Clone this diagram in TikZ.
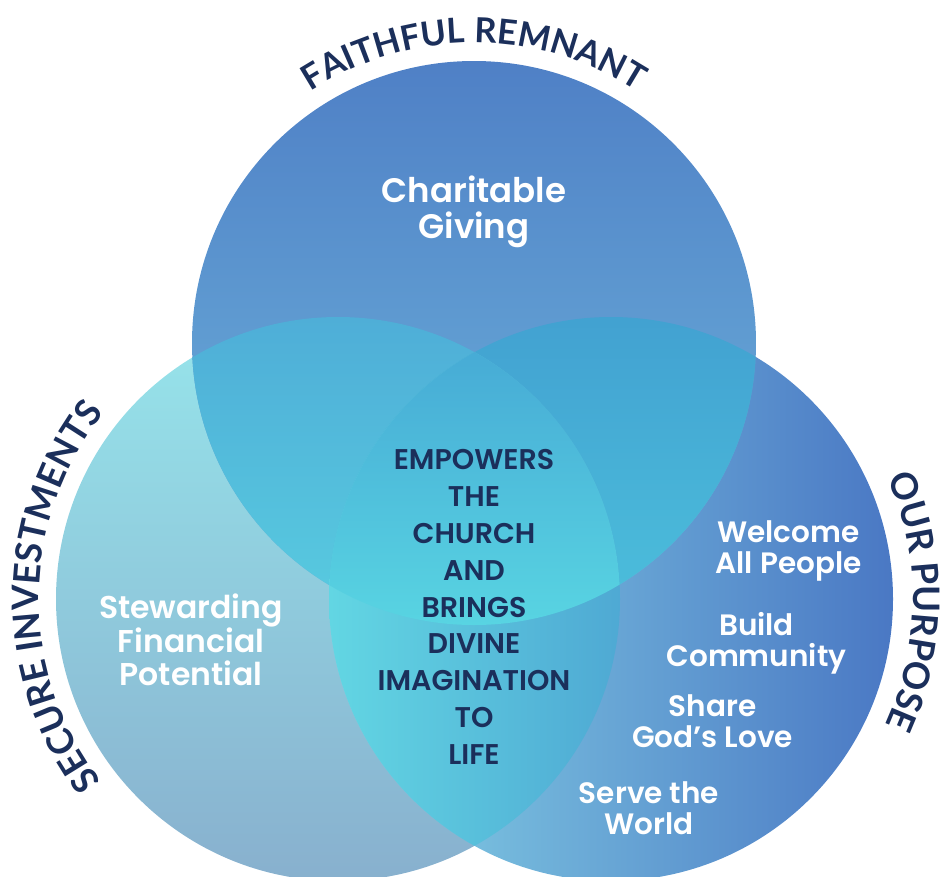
\documentclass[tikz,border=0pt]{standalone}
\usepackage{fontspec}
\setmainfont{Poppins}[UprightFont=* SemiBold]
\newfontfamily\titlefont{Lato}[UprightFont=* Bold]
\usetikzlibrary{decorations.text}

\definecolor{navy}{HTML}{1B2F5B}
\definecolor{lefttop}{HTML}{97E5EB}
\definecolor{leftbot}{HTML}{88B0CE}
\definecolor{rightl}{HTML}{86D4E6}
\definecolor{rightr}{HTML}{4A78C4}
\definecolor{toptop}{HTML}{4F80C6}
\definecolor{topbot}{HTML}{70B8DD}
\definecolor{tltop}{HTML}{4795D0}
\definecolor{tlbot}{HTML}{58CCE0}
\definecolor{trtop}{HTML}{3A88C8}
\definecolor{trbot}{HTML}{4CC0DC}
\definecolor{lrl}{HTML}{62D6E3}
\definecolor{lrr}{HTML}{3D7FC5}
\definecolor{midtop}{HTML}{3580C8}
\definecolor{midbot}{HTML}{58D4E2}

\begin{document}
\begin{tikzpicture}[x=1pt, y=1pt,
    whitetext/.style={text=white, align=center, inner sep=0pt},
    circletitle/.style 2 args={decorate, decoration={text along path, text align=center,
        text color=navy, text={|\titlefont\fontsize{#1}{#1}\selectfont|#2}}}]
    \clip (0,0) rectangle (940,-876);
    % Circle centres
    \coordinate (faith) at (474,-343);
    \coordinate (secure) at (338,-599);
    \coordinate (purpose) at (611,-599);
    \def\rad{282}

    % Draw circles
    \shade [top color=lefttop, bottom color=leftbot] (secure) circle (\rad);
    \shade [left color=rightl, right color=rightr] (purpose) circle (\rad);
    \shade [top color=toptop, bottom color=topbot] (faith) circle (\rad);

    % Overlaps
    \begin{scope}
        \clip (secure) circle (\rad);
        \shade [top color=tltop, bottom color=tlbot] (faith) circle (\rad);
    \end{scope}
    \begin{scope}
        \clip (purpose) circle (\rad);
        \shade [top color=trtop, bottom color=trbot] (faith) circle (\rad);
    \end{scope}
    \begin{scope}
        \clip (secure) circle (\rad);
        \shade [left color=lrl, right color=lrr] (purpose) circle (\rad);
    \end{scope}
    \begin{scope}
        \clip (secure) circle (\rad);
        \clip (purpose) circle (\rad);
        \shade [top color=midtop, bottom color=midbot] (faith) circle (\rad);
    \end{scope}

    % Curved titles
    \path [circletitle={34.5}{FAITHFUL REMNANT}] ([shift={(150:300)}]faith) arc [start angle=150, end angle=30, radius=300];
    \path [circletitle={36.5}{SECURE INVESTMENTS}] ([shift={(249.5:299)}]secure) arc [start angle=249.5, end angle=109.5, radius=299];
    \path [circletitle={36.5}{OUR PURPOSE}] ([shift={(69.5:302)}]purpose) arc [start angle=69.5, end angle=-70.5, radius=302];

    % Labels
    \node [whitetext, font=\fontsize{34}{35.5}\selectfont] (charitable) at (474,-212) {Charitable\\Giving};
    \node [whitetext, font=\fontsize{31.5}{33.5}\selectfont] (stewarding) at (191,-640) {Stewarding\\Financial\\Potential};
    \node [whitetext, font=\fontsize{29.5}{31}\selectfont] (welcome) at (788.5,-551) {Welcome\\All People};
    \node [whitetext, font=\fontsize{29.5}{31}\selectfont] (build) at (756.5,-643) {Build\\Community};
    \node [whitetext, font=\fontsize{29.5}{31}\selectfont] (share) at (712.5,-721) {Share\\God’s Love};
    \node [whitetext, font=\fontsize{29.5}{31}\selectfont] (serve) at (649,-808) {Serve the\\World};
    \node [text=navy, align=center, inner sep=0pt, font=\fontsize{28.5}{36.8}\selectfont] (empowers) at (474,-607)
        {EMPOWERS\\THE\\CHURCH\\AND\\BRINGS\\DIVINE\\IMAGINATION\\TO\\LIFE};
\end{tikzpicture}
\end{document}
